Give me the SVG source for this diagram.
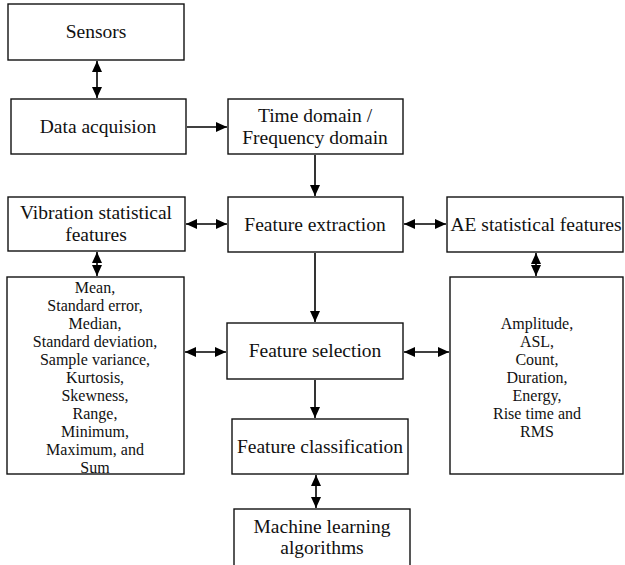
<svg xmlns="http://www.w3.org/2000/svg" width="625" height="565" viewBox="0 0 625 565">
<defs>
<style>
.box{fill:#fff;stroke:#111;stroke-width:1.4}
.t{font-family:"Liberation Serif","Times New Roman",serif;font-size:19.5px;fill:#111;text-anchor:middle}
.s{font-family:"Liberation Serif","Times New Roman",serif;font-size:16px;fill:#111;text-anchor:middle}
.c{stroke:#000;stroke-width:1.6;fill:none}
</style>
<marker id="ah" viewBox="0 0 11 10" refX="11" refY="5" markerWidth="11" markerHeight="10" markerUnits="userSpaceOnUse" orient="auto-start-reverse">
<path d="M0,0 L11,5 L0,10 Z" fill="#000"/>
</marker>
</defs>
<rect width="625" height="565" fill="#fff"/>
<g id="connectors">
<line class="c" x1="97" y1="61" x2="97" y2="98" marker-start="url(#ah)" marker-end="url(#ah)"/>
<line class="c" x1="187" y1="127" x2="227" y2="127" marker-end="url(#ah)"/>
<line class="c" x1="315" y1="155" x2="315" y2="196" marker-end="url(#ah)"/>
<line class="c" x1="186" y1="224" x2="227" y2="224" marker-start="url(#ah)" marker-end="url(#ah)"/>
<line class="c" x1="404" y1="224" x2="446" y2="224" marker-start="url(#ah)" marker-end="url(#ah)"/>
<line class="c" x1="97" y1="252" x2="97" y2="276" marker-start="url(#ah)" marker-end="url(#ah)"/>
<line class="c" x1="536" y1="253" x2="536" y2="276" marker-start="url(#ah)" marker-end="url(#ah)"/>
<line class="c" x1="315" y1="253" x2="315" y2="322" marker-end="url(#ah)"/>
<line class="c" x1="185" y1="352" x2="226" y2="352" marker-start="url(#ah)" marker-end="url(#ah)"/>
<line class="c" x1="404" y1="352" x2="449" y2="352" marker-start="url(#ah)" marker-end="url(#ah)"/>
<line class="c" x1="315" y1="380" x2="315" y2="418" marker-end="url(#ah)"/>
<line class="c" x1="316" y1="475" x2="316" y2="508" marker-start="url(#ah)" marker-end="url(#ah)"/>
</g>
<g id="sensors">
<rect class="box" x="8" y="4" width="176" height="56"/>
<text class="t" x="96" y="38">Sensors</text>
</g>
<g id="data-acquision">
<rect class="box" x="11" y="99" width="175" height="55"/>
<text class="t" x="98" y="133">Data acquision</text>
</g>
<g id="time-frequency">
<rect class="box" x="228" y="99" width="175" height="55"/>
<text class="t" x="315" y="122">Time domain /</text>
<text class="t" x="315" y="144">Frequency domain</text>
</g>
<g id="vibration-features">
<rect class="box" x="8" y="197" width="177" height="54"/>
<text class="t" x="96" y="219">Vibration statistical</text>
<text class="t" x="96" y="241">features</text>
</g>
<g id="feature-extraction">
<rect class="box" x="228" y="197" width="175" height="55"/>
<text class="t" x="315" y="231">Feature extraction</text>
</g>
<g id="ae-features">
<rect class="box" x="447" y="197" width="176" height="55"/>
<text class="t" x="536" y="231">AE statistical features</text>
</g>
<g id="vibration-list">
<rect class="box" x="7" y="277" width="177" height="197"/>
<text class="s" x="95" y="293">Mean,</text>
<text class="s" x="95" y="311">Standard error,</text>
<text class="s" x="95" y="329">Median,</text>
<text class="s" x="95" y="347">Standard deviation,</text>
<text class="s" x="95" y="365">Sample variance,</text>
<text class="s" x="95" y="383">Kurtosis,</text>
<text class="s" x="95" y="401">Skewness,</text>
<text class="s" x="95" y="419">Range,</text>
<text class="s" x="95" y="437">Minimum,</text>
<text class="s" x="95" y="455">Maximum, and</text>
<text class="s" x="95" y="473">Sum</text>
</g>
<g id="feature-selection">
<rect class="box" x="227" y="323" width="176" height="56"/>
<text class="t" x="315" y="357">Feature selection</text>
</g>
<g id="ae-list">
<rect class="box" x="450" y="277" width="173" height="197"/>
<text class="s" x="537" y="329">Amplitude,</text>
<text class="s" x="537" y="347">ASL,</text>
<text class="s" x="537" y="365">Count,</text>
<text class="s" x="537" y="383">Duration,</text>
<text class="s" x="537" y="401">Energy,</text>
<text class="s" x="537" y="419">Rise time and</text>
<text class="s" x="537" y="437">RMS</text>
</g>
<g id="feature-classification">
<rect class="box" x="232" y="419" width="176" height="55"/>
<text class="t" x="320" y="453">Feature classification</text>
</g>
<g id="ml-algorithms">
<rect class="box" x="234" y="509" width="176" height="60"/>
<text class="t" x="322" y="533">Machine learning</text>
<text class="t" x="322" y="554">algorithms</text>
</g>
</svg>
